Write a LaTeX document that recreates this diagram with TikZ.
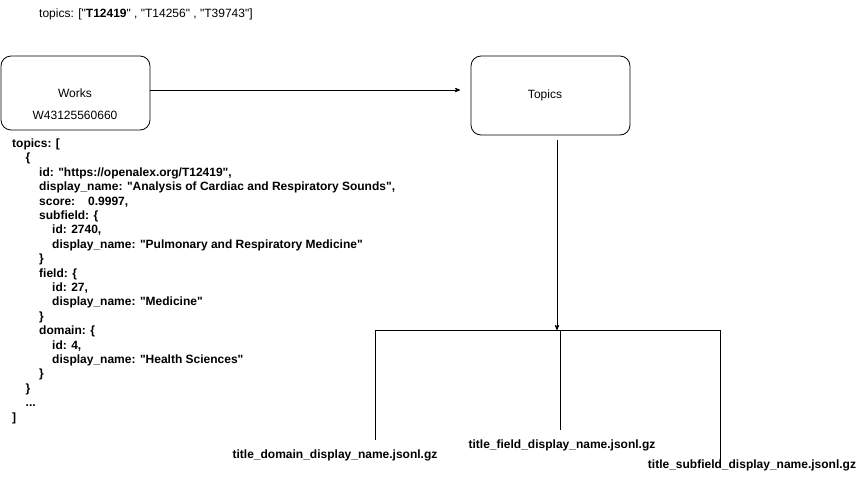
\documentclass[tikz,border=0pt]{standalone}
\usepackage{fontspec}
\setmainfont{Liberation Sans}[Ligatures=TeXOff]
\usetikzlibrary{arrows}

\begin{document}
\begin{tikzpicture}[x=1pt,y=-1pt,
    entity/.style={draw,rounded corners=10pt,line width=0.8pt},
    txt/.style={font={\fontsize{12}{14.4}\selectfont},inner sep=0pt},
    btxt/.style={font={\fontsize{12}{14.4}\selectfont\bfseries},inner sep=0pt},
    >=stealth']

\useasboundingbox (0,0) rectangle (857,480);

\node[txt,anchor=west] (toplist) at (39,14) {topics: ["\textbf{T12419}" , "T14256" , "T39743"]};

\node[entity,minimum width=149pt,minimum height=74pt] (works) at (75.5,93) {};
\node[txt] (worksname) at (75,93) {Works};
\node[txt] (worksid) at (75,115) {W43125560660};

\node[entity,minimum width=159pt,minimum height=79pt] (topics) at (550.5,95.5) {};
\node[txt] (topicsname) at (545,95) {Topics};

\coordinate (arrowend) at (460,90);
\draw[semithick,->,line width=0.8pt] ([yshift=3pt]works.east) -- (arrowend);

\coordinate (downstart) at (557,140);
\coordinate (branch) at (557,330);
\draw[semithick,->,line width=0.8pt] (downstart) -- (branch);

%branches
\coordinate (bleft) at (375,330);
\coordinate (bmid) at (560,330);
\coordinate (bright) at (720,330);
\draw[semithick] (bleft) -- (bright);
\draw[semithick] (bleft) -- (375,440);
\draw[semithick] (bmid) -- (560,430);
\draw[semithick] (bright) -- (720,462);

\node[btxt] (domainfile) at (335,455) {title\_domain\_display\_name.jsonl.gz};
\node[btxt] (fieldfile) at (562,445) {title\_field\_display\_name.jsonl.gz};
\node[btxt] (subfieldfile) at (752,465) {title\_subfield\_display\_name.jsonl.gz};

\node[btxt,anchor=north west,align=left] (json) at (12,138.5) {%
topics: [\\
\hspace*{13.5pt}\{\\
\hspace*{27pt}id: "https://openalex.org/T12419",\\
\hspace*{27pt}display\_name: "Analysis of Cardiac and Respiratory Sounds",\\
\hspace*{27pt}score:\hspace*{13pt}0.9997,\\
\hspace*{27pt}subfield: \{\\
\hspace*{40pt}id: 2740,\\
\hspace*{40pt}display\_name: "Pulmonary and Respiratory Medicine"\\
\hspace*{27pt}\}\\
\hspace*{27pt}field: \{\\
\hspace*{40pt}id: 27,\\
\hspace*{40pt}display\_name: "Medicine"\\
\hspace*{27pt}\}\\
\hspace*{27pt}domain: \{\\
\hspace*{40pt}id: 4,\\
\hspace*{40pt}display\_name: "Health Sciences"\\
\hspace*{27pt}\}\\
\hspace*{13.5pt}\}\\
\hspace*{13.5pt}...\\
]};

\end{tikzpicture}
\end{document}
